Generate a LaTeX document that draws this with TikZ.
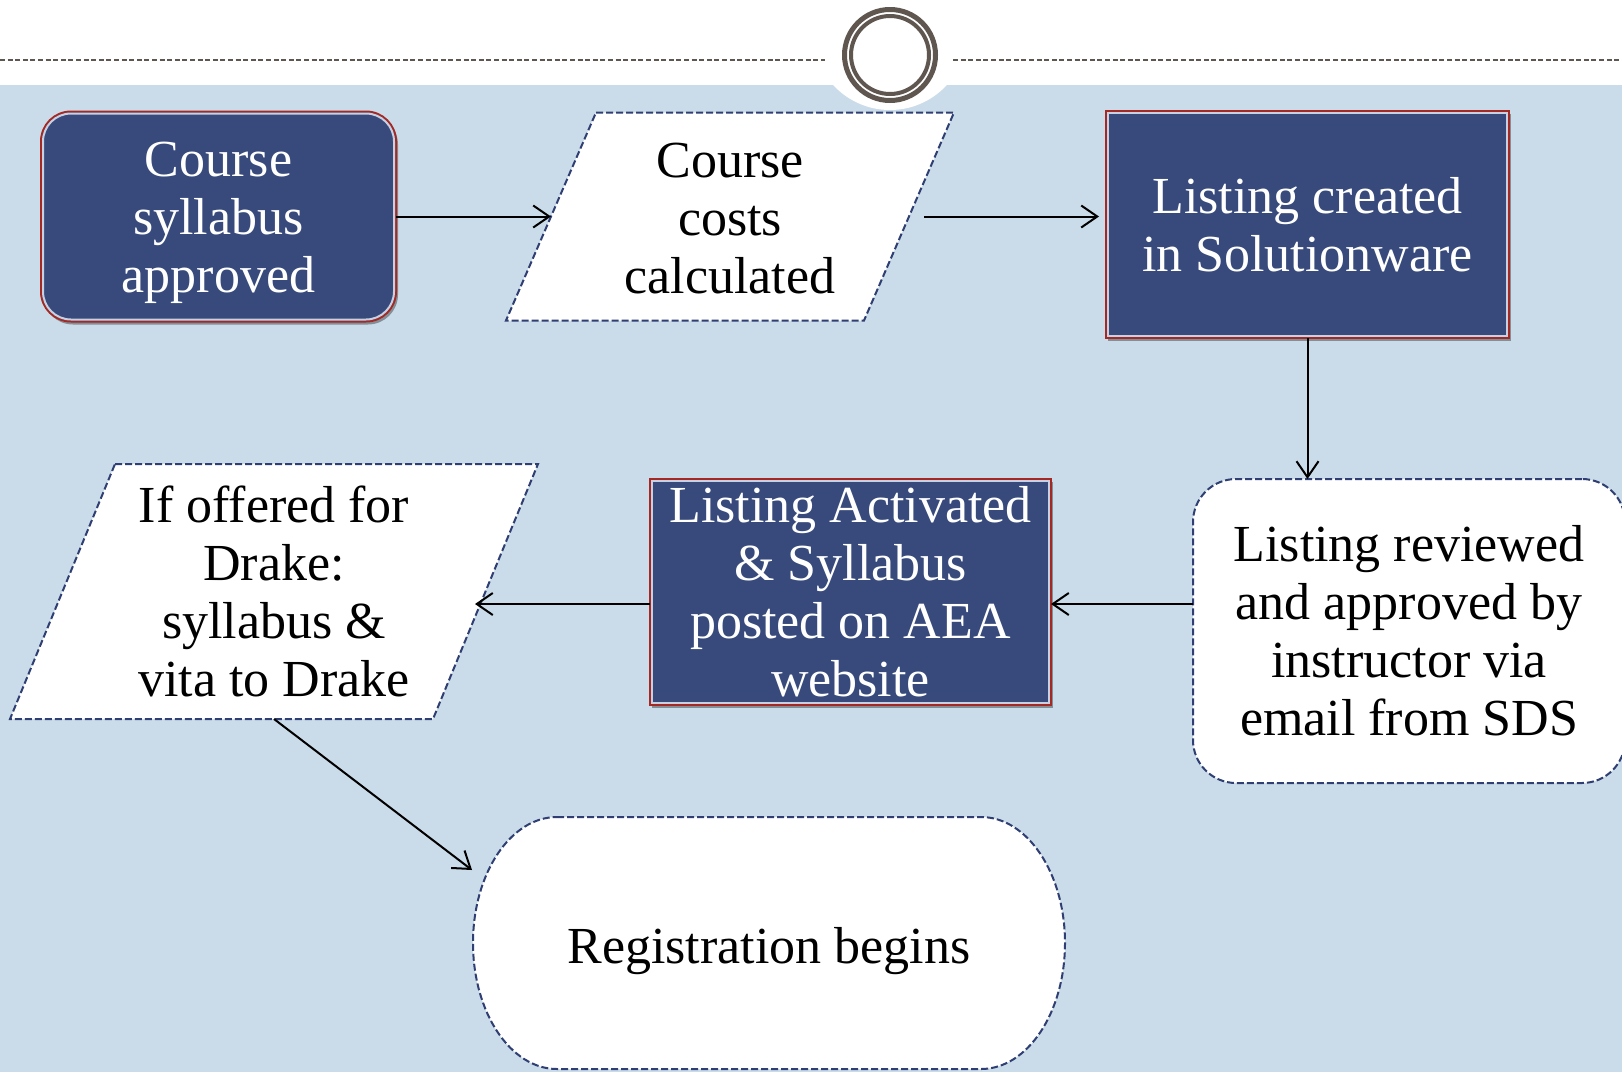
\documentclass[tikz,border=0pt]{standalone}
\usepackage{fontspec}
\setmainfont{Liberation Serif}
\usetikzlibrary{arrows.meta,shadows,calc,backgrounds}
\definecolor{bgblue}{RGB}{202,220,233}
\definecolor{navy}{RGB}{55,74,123}
\definecolor{boxred}{RGB}{165,40,35}
\definecolor{innerc}{RGB}{200,208,228}
\definecolor{dashblue}{RGB}{47,62,115}
\definecolor{ringc}{RGB}{95,87,79}
\begin{document}
\begin{tikzpicture}[x=0.5pt,y=-0.5pt,
  txt/.style={font=\fontsize{26}{29}\selectfont, align=center, inner sep=0pt, outer sep=0pt},
  navybox/.style={txt, text=white, fill=navy, draw=boxred, line width=1pt,
     drop shadow={shadow xshift=1pt, shadow yshift=-1.5pt, opacity=0.35, fill=black}},
  dashline/.style={draw=dashblue, line width=1pt, dash pattern=on 3.5pt off 1.5pt},
  whitebox/.style={txt, fill=white, dashline},
  plain/.style={txt},
  innerline/.style={draw=innerc, line width=1pt},
  conn/.style={draw=black, line width=1pt, -{Straight Barb[length=8pt,width=11pt]}},
  topdash/.style={draw=ringc, line width=0.7pt, dash pattern=on 2.5pt off 1.3pt},
]
\useasboundingbox (0,0) rectangle (1622,1072);
\begin{scope}[on background layer]
  \fill[white] (0,0) rectangle (1622,1072);
  \fill[bgblue] (0,85) rectangle (1622,1072);
  \fill[white] (890,33) circle[radius=38.5pt];
  \draw[topdash] (0,60) -- (825,60);
  \draw[topdash] (953,60) -- (1622,60);
  \draw[draw=ringc, line width=2.5pt] (890,55) circle[radius=22.75pt];
  \draw[draw=ringc, line width=2pt] (890,55) circle[radius=19.5pt];
\end{scope}

% Course syllabus approved
\node[navybox, rounded corners=15pt, minimum width=177.5pt, minimum height=105pt] (n1) at (218.5,216.5) {\rule{0pt}{23.5pt}Course\\syllabus\\approved};
\draw[innerline, rounded corners=14pt] ([shift={(1pt,-1pt)}]n1.north west) rectangle ([shift={(-1pt,1pt)}]n1.south east);

% Course costs calculated
\node[plain, minimum width=224pt, minimum height=104pt] (n2) at (730,216.5) {\rule{0pt}{19.5pt}Course\\costs\\calculated};
\begin{scope}[on background layer]
  \draw[dashline, fill=white] ([xshift=45pt]n2.north west) -- (n2.north east) -- ([xshift=-45pt]n2.south east) -- (n2.south west) -- cycle;
\end{scope}

% Listing created
\node[navybox, minimum width=201.5pt, minimum height=113.5pt] (n3) at (1307.5,224.5) {Listing created\\in Solutionware};
\draw[innerline] ([shift={(1pt,-1pt)}]n3.north west) rectangle ([shift={(-1pt,1pt)}]n3.south east);

% Listing reviewed
\node[whitebox, rounded corners=21.5pt, minimum width=216pt, minimum height=152pt] (n4) at (1409,631) {Listing reviewed\\and approved by\\instructor via\\email from SDS};

% Listing Activated
\node[navybox, minimum width=200.5pt, minimum height=113pt] (n5) at (850.5,592) {Listing Activated\\\& Syllabus\\posted on AEA\\website};
\draw[innerline] ([shift={(1pt,-1pt)}]n5.north west) rectangle ([shift={(-1pt,1pt)}]n5.south east);

% If offered for Drake
\node[plain, minimum width=264pt, minimum height=127.5pt] (n7) at (274,591.5) {If offered for\\Drake:\\syllabus \&\\vita to Drake};
\begin{scope}[on background layer]
  \draw[dashline, fill=white] ([xshift=52.5pt]n7.north west) -- (n7.north east) -- ([xshift=-52.5pt]n7.south east) -- (n7.south west) -- cycle;
\end{scope}

% Registration begins
\node[plain, minimum width=296pt, minimum height=126pt] (n6) at (769,943) {\rule{0pt}{26pt}Registration begins};
\begin{scope}[on background layer]
  \draw[dashline, fill=white] ([xshift=42pt]n6.north west) -- ([xshift=-42pt]n6.north east)
    arc[start angle=90, end angle=-90, x radius=42pt, y radius=63pt]
    -- ([xshift=42pt]n6.south west)
    arc[start angle=270, end angle=90, x radius=42pt, y radius=63pt] -- cycle;
\end{scope}

% connectors
\draw[conn] (n1.east) -- ([xshift=22.5pt]n2.west);
\draw[conn] ([xshift=-15pt]n2.east) -- ($(n3.west |- n2.east)+(-3.5pt,0)$);
\draw[conn] (n3.south) -- (n3.south |- n4.north);
\coordinate (a4) at ($(n4.west)+(0,-27)$);
\draw[conn] (a4) -- (n5.east |- a4);
\draw[conn] (n5.west |- a4) -- ($(n7.east |- a4)+(-63,0)$);
\draw[conn] (n7.south) -- ($(n6.north west)+(-1,53)$);
\end{tikzpicture}
\end{document}
